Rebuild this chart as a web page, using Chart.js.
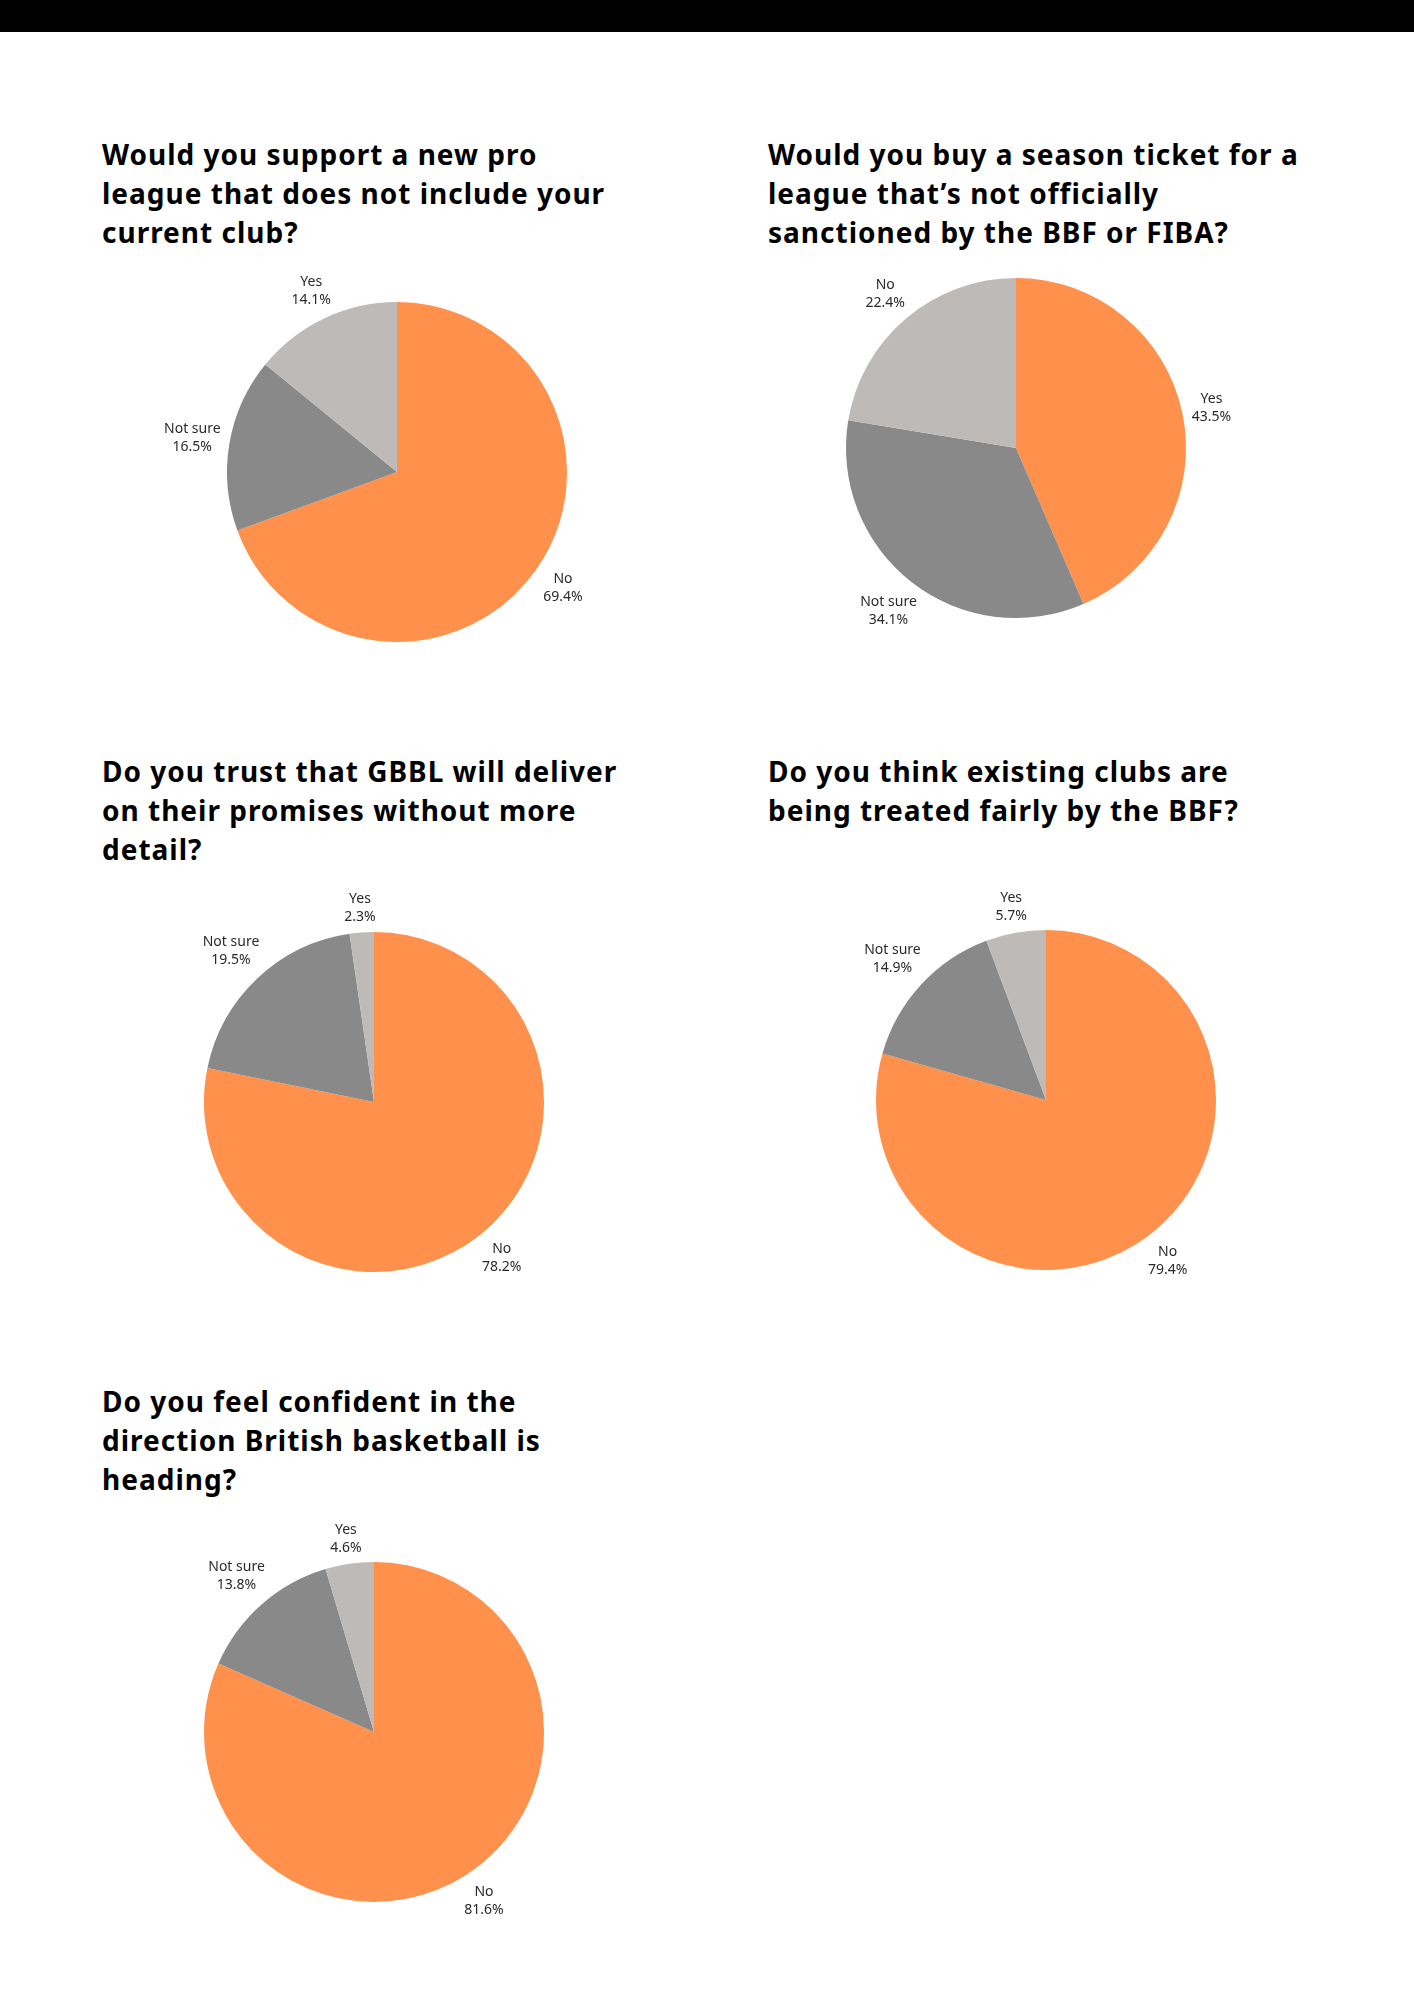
<!DOCTYPE html>
<html>
<head>
<meta charset="utf-8">
<script src="https://cdn.jsdelivr.net/npm/chart.js@4/dist/chart.umd.min.js"></script>
<style>
  html, body { margin: 0; padding: 0; background: #fff; }
  body { position: relative; width: 1414px; height: 2000px; overflow: hidden; }
  .topbar { position: absolute; left: 0; top: 0; width: 1414px; height: 32px; background: #000; }
  .title {
    position: absolute; margin: 0; color: #000;
    font-family: "Noto Sans", "Open Sans", sans-serif; font-weight: 700;
    font-size: 28px; line-height: 39px; letter-spacing: 1px; white-space: nowrap;
  }
  .pie { position: absolute; width: 520px; height: 520px; }
</style>
</head>
<body>
<div class="topbar"></div>

<div class="title" id="t1" style="left:102px; top:135px;"></div>
<div class="title" id="t2" style="left:768px; top:135px;"></div>
<div class="title" id="t3" style="left:102px; top:752px;"></div>
<div class="title" id="t4" style="left:768px; top:752px;"></div>
<div class="title" id="t5" style="left:102px; top:1382px;"></div>

<div class="pie" style="left:137px; top:212px;"><canvas id="c1"></canvas></div>
<div class="pie" style="left:756px; top:188px;"><canvas id="c2"></canvas></div>
<div class="pie" style="left:114px; top:842px;"><canvas id="c3"></canvas></div>
<div class="pie" style="left:786px; top:840px;"><canvas id="c4"></canvas></div>
<div class="pie" style="left:114px; top:1472px;"><canvas id="c5"></canvas></div>

<script>
// question titles, already broken into lines as in the source
const titles = [
  ['Would you support a new pro', 'league that does not include your', 'current club?'],
  ['Would you buy a season ticket for a', 'league that\u2019s not officially', 'sanctioned by the BBF or FIBA?'],
  ['Do you trust that GBBL will deliver', 'on their promises without more', 'detail?'],
  ['Do you think existing clubs are', 'being treated fairly by the BBF?'],
  ['Do you feel confident in the', 'direction British basketball is', 'heading?']
];

// answers, clockwise from 12 o'clock
const labels1 = ['No', 'Not sure', 'Yes'];
const values1 = [69.4, 16.5, 14.1];

const labels2 = ['Yes', 'Not sure', 'No'];
const values2 = [43.5, 34.1, 22.4];

const labels3 = ['No', 'Not sure', 'Yes'];
const values3 = [78.2, 19.5, 2.3];

const labels4 = ['No', 'Not sure', 'Yes'];
const values4 = [79.4, 14.9, 5.7];

const labels5 = ['No', 'Not sure', 'Yes'];
const values5 = [81.6, 13.8, 4.6];

const sliceColors = ['#FF914D', '#898989', '#BDBAB7'];

titles.forEach((lines, i) => {
  document.getElementById('t' + (i + 1)).innerHTML = lines.join('<br>');
});

// outside labels: name on first line, percentage below
const outsideLabels = {
  id: 'outsideLabels',
  afterDatasetsDraw(chart) {
    const ctx = chart.ctx;
    const meta = chart.getDatasetMeta(0);
    const data = chart.data.datasets[0].data;
    const lineH = 18;
    ctx.save();
    ctx.font = '14px "Noto Sans", sans-serif';
    ctx.fillStyle = '#2a2a2a';
    ctx.textAlign = 'center';
    ctx.textBaseline = 'middle';
    meta.data.forEach((arc, i) => {
      const p = arc.getProps(['x', 'y', 'startAngle', 'endAngle', 'outerRadius'], true);
      const mid = (p.startAngle + p.endAngle) / 2;
      const dx = Math.cos(mid), dy = Math.sin(mid);
      const l1 = chart.data.labels[i];
      const l2 = data[i].toFixed(1) + '%';
      const halfW = Math.max(ctx.measureText(l1).width, ctx.measureText(l2).width) / 2;
      const halfH = lineH;
      const dist = p.outerRadius + 7 + Math.abs(dx) * halfW + Math.abs(dy) * halfH * 0.9;
      const cx = p.x + dx * dist;
      const cy = p.y + dy * dist;
      ctx.fillText(l1, cx, cy - lineH / 2);
      ctx.fillText(l2, cx, cy + lineH / 2);
    });
    ctx.restore();
  }
};

function makePie(id, labels, values) {
  new Chart(document.getElementById(id), {
    type: 'pie',
    data: {
      labels: labels,
      datasets: [{
        data: values,
        backgroundColor: sliceColors,
        borderWidth: 0
      }]
    },
    options: {
      responsive: true,
      maintainAspectRatio: false,
      animation: false,
      layout: { padding: 90 },
      plugins: {
        legend: { display: false },
        tooltip: { enabled: false }
      }
    },
    plugins: [outsideLabels]
  });
}

makePie('c1', labels1, values1);
makePie('c2', labels2, values2);
makePie('c3', labels3, values3);
makePie('c4', labels4, values4);
makePie('c5', labels5, values5);
</script>
</body>
</html>
